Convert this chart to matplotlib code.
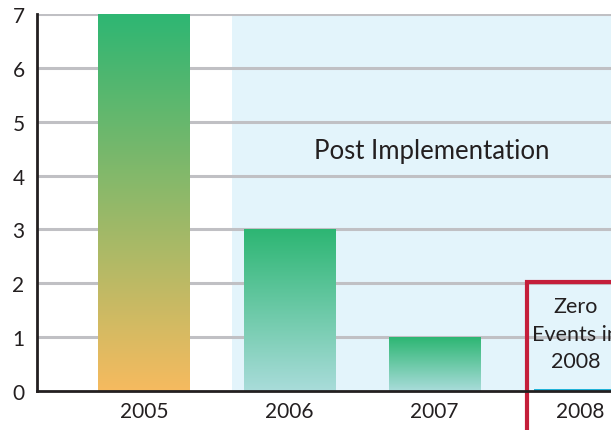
import matplotlib
matplotlib.use("Agg")
import matplotlib.pyplot as plt
import numpy as np
from matplotlib.colors import LinearSegmentedColormap
from matplotlib.patches import Rectangle

# данные
years = ["2005", "2006", "2007", "2008"]
events = [7, 3, 1, 0.04]
yticks = [0, 1, 2, 3, 4, 5, 6, 7]
post_label = "Post Implementation"
zero_label = "Zero\nEvents in\n2008"

plt.rcParams['font.family'] = ['Lato', 'DejaVu Sans']

fig = plt.figure(figsize=(6.11, 4.31), dpi=100)
ax = fig.add_axes([37 / 611, 1 - 392 / 431, 1 - 37 / 611, (392 - 15) / 431])

x = np.arange(len(years))
width = 0.63

# фон "после внедрения"
ax.axvspan(0.606, 3.215, color='#e3f4fb', zorder=0, lw=0)

# сетка
for t in yticks[1:]:
    ax.axhline(t, color='#c0c0c4', lw=2.2, zorder=1)

# градиентные столбцы
cmap_pre = LinearSegmentedColormap.from_list("pre", ["#f6bb5f", "#2eb673"])
cmap_post = LinearSegmentedColormap.from_list("post", ["#a9dcda", "#2db673"])
grad = np.linspace(0, 1, 256).reshape(-1, 1)
for i, (xi, v) in enumerate(zip(x, events)):
    if i == 3:
        ax.bar(xi + 0.03, v, width=width + 0.06, color='#1fb2d8', zorder=2)
        continue
    cm = cmap_pre if i == 0 else cmap_post
    ax.imshow(grad, cmap=cm, origin='lower', aspect='auto',
              extent=[xi - width / 2, xi + width / 2, 0, v], zorder=2)
ax.set_xlim(-0.737, 3.215)
ax.set_ylim(0, 7)

ax.text(1.98, 4.47, post_label, ha='center', va='center', fontsize=18.5,
        color='#231f20', zorder=3)

# красная рамка
rect = Rectangle((2.635, -1.0), 1.5, 3.02, fill=False, edgecolor='#c41e3a',
                 lw=3, clip_on=False, zorder=4)
ax.add_patch(rect)
ax.text(2.97, 1.065, zero_label, ha='center', va='center', fontsize=15.5,
        color='#231f20', linespacing=1.45, zorder=3)

ax.set_xticks(x)
ax.set_xticklabels(years)
ax.set_yticks(yticks)
ax.tick_params(axis='both', length=0, labelsize=15, colors='#231f20')
ax.tick_params(axis='y', pad=9)
ax.tick_params(axis='x', pad=7)

for s in ['top', 'right']:
    ax.spines[s].set_visible(False)
ax.spines['left'].set_linewidth(2)
ax.spines['bottom'].set_linewidth(2)
ax.spines['left'].set_color('#231f20')
ax.spines['bottom'].set_color('#231f20')
ax.spines['left'].set_zorder(5)
ax.spines['bottom'].set_zorder(5)

fig.savefig("out.png", dpi=100)
